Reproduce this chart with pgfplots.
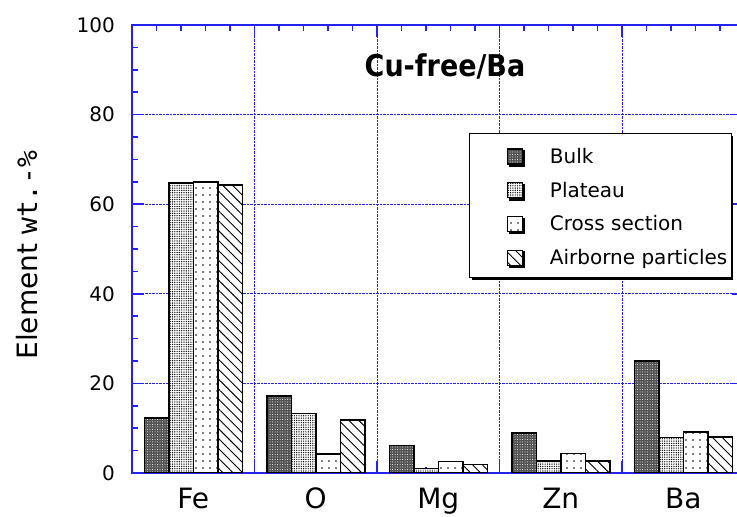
\documentclass[border=0pt]{standalone}
\usepackage{fontspec}
\setmainfont{DejaVu Sans}
\newfontfamily\monofont{DejaVu Sans Mono}
\newfontfamily\titlefont{DejaVu Sans}[FakeStretch=0.9]
\usepackage{pgfplots}
\pgfplotsset{compat=1.18}
\usetikzlibrary{patterns,patterns.meta,shadows}
\definecolor{axblue}{RGB}{35,35,235}
\pgfplotsset{
  mybar/.style={ybar, bar width=24.5pt, bar shift=0pt, draw=black, line width=1.5pt,
    legend image code/.code={\path (0pt,0pt); \draw[##1, line width=1.2pt] (33pt,-0.5pt) rectangle (48pt,14.5pt);}},
  cfg/.style={
  anchor=south west,
  scale only axis, width=612.5pt, height=448pt,
  xmin=-0.5, xmax=4.5, ymin=0, ymax=100,
  xtick={0.5,1.5,2.5,3.5,4.5}, xticklabels={,,,,},
  minor xtick={-0.3,-0.1,0.1,0.3,0.7,0.9,1.1,1.3,1.7,1.9,2.1,2.3,2.7,2.9,3.1,3.3,3.7,3.9,4.1,4.3},
  extra x ticks={0,1,2,3,4},
  extra x tick labels={Fe,O,Mg,Zn,Ba},
  extra x tick style={grid=none, tick style={draw=none}},
  ytick={0,20,40,60,80,100},
  minor y tick num=3,
  xmajorgrids, ymajorgrids,
  major grid style={axblue, densely dotted, line width=1pt},
  axis line style={axblue, line width=1.6pt},
  tick style={draw=axblue, line width=1.6pt},
  major tick length=12pt, minor tick length=6pt,
  yticklabel style={font=\fontsize{20}{24}\selectfont, inner sep=0pt, xshift=-17pt, /pgf/number format/assume math mode=true},
  xticklabel style={font=\fontsize{28}{32}\selectfont, inner sep=0pt, anchor=north, yshift=-15pt},
  legend style={at={(0.5502,0.759)}, anchor=north west, draw=black, line width=1.2pt, fill=white,
    drop shadow={shadow xshift=2pt, shadow yshift=-2pt, fill=black, opacity=1},
    inner xsep=4pt, inner ysep=8pt, row sep=6.7pt, column sep=27pt,
    nodes={inner sep=0pt, text height=22pt, text depth=5pt, anchor=base west, font=\fontsize{20}{24}\selectfont}},
  legend cell align=left,
  }
}
\begin{document}
\begin{tikzpicture}
\path[use as bounding box] (0pt,0pt) rectangle (737pt,517pt);
\begin{scope}
\clip (0pt,0pt) rectangle (737pt,517pt);
\begin{axis}[cfg, at={(132pt,44pt)}]
\addplot[mybar, fill=black!68, postaction={pattern={Dots[distance=2.5pt,radius=0.5pt]}, pattern color=white}]
  coordinates {(-0.3,12.3) (0.7,17.2) (1.7,6.1) (2.7,8.9) (3.7,25.0)};
\addlegendentry{Bulk}
\addplot[mybar, fill=white, postaction={pattern={Dots[distance=2.3pt,radius=0.7pt]}, pattern color=black}]
  coordinates {(-0.1,64.7) (0.9,13.3) (1.9,1.0) (2.9,2.7) (3.9,7.9)};
\addlegendentry{Plateau}
\addplot[mybar, fill=white, postaction={pattern={Dots[distance=7pt,radius=0.85pt]}, pattern color=black}]
  coordinates {(0.1,65.0) (1.1,4.2) (2.1,2.6) (3.1,4.3) (4.1,9.2)};
\addlegendentry{Cross section}
\addplot[mybar, fill=white, postaction={pattern={Lines[angle=-45,distance=7pt,line width=0.9pt]}, pattern color=black}]
  coordinates {(0.3,64.3) (1.3,11.8) (2.3,1.9) (3.3,2.7) (4.3,8.0)};
\addlegendentry{Airborne particles}
\end{axis}
\end{scope}
\node[anchor=base, font=\titlefont\bfseries\fontsize{30}{34}\selectfont] at (445pt,440pt) {Cu-free/Ba};
\node[rotate=90, anchor=base, font=\fontsize{28}{32}\selectfont] at (37pt,262pt) {Element {\monofont wt.-\%}};
\end{tikzpicture}
\end{document}
